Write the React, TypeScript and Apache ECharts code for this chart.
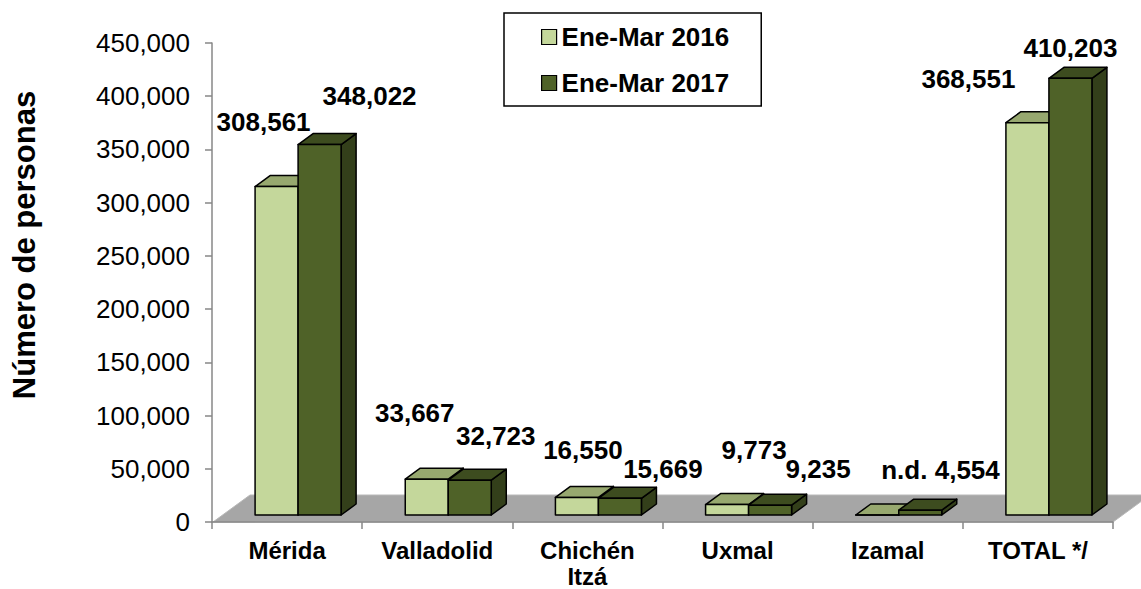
import React, { useEffect, useRef } from "react";
import * as echarts from "echarts";

const categories = ["Mérida", "Valladolid", "Chichén\nItzá", "Uxmal", "Izamal", "TOTAL */"];
const values2016: (number | null)[] = [308561, 33667, 16550, 9773, null, 368551];
const values2017: (number | null)[] = [348022, 32723, 15669, 9235, 4554, 410203];
const seriesNames = ["Ene-Mar 2016", "Ene-Mar 2017"];
const yMin = 0;
const yMax = 450000;
const yInterval = 50000;

// label placement (px) relative to each bar's front-top centre
const labelOffsets2016 = [[-13, -65], [-12, -66], [6, -47], [27, -55], [27, -45], [-59, -44]];
const labelOffsets2017 = [[50, -49], [26, -44], [43, -29], [48, -36], [47, -40], [0, -30]];

const FONT = "'Liberation Sans', Arial, Helvetica, sans-serif";

const palettes = [
  { front: "#c4d79b", top: "#97a86f", side: "#7f8f58" },
  { front: "#4f6228", top: "#3d4c1f", side: "#333f1a" },
];

const fmt = (v: number | null) => (v === null ? "n.d." : v.toLocaleString("en-US"));

function makeBarRender(sIdx: number, raw: (number | null)[], offsets: number[][]) {
  const pal = palettes[sIdx];
  return (params: any, api: any) => {
    const i = api.value(0);
    const v = api.value(1);
    const p = api.coord([i, v]);
    const z = api.coord([i, 0]);
    const band = api.size([1, 0])[0];
    const w = band * 0.2864;
    const shiftX = band * 0.0733;
    const lift = 7;
    const dx = 15;
    const dy = -11;
    const cx = p[0];
    const base = z[1] - lift;
    const top = p[1] - lift;
    const x = sIdx === 0 ? cx + shiftX - w : cx + shiftX;
    const stroke = { stroke: "#000", lineWidth: 1.5, lineJoin: "round" };
    const off = offsets[i] || [0, -30];
    return {
      type: "group",
      children: [
        {
          type: "polygon",
          shape: { points: [[x + w, top], [x + w + dx, top + dy], [x + w + dx, base + dy], [x + w, base]] },
          style: { fill: pal.side, ...stroke },
        },
        {
          type: "polygon",
          shape: { points: [[x, top], [x + dx, top + dy], [x + w + dx, top + dy], [x + w, top]] },
          style: { fill: pal.top, ...stroke },
        },
        {
          type: "rect",
          shape: { x, y: top, width: w, height: Math.max(0, base - top) },
          style: { fill: pal.front, ...stroke },
        },
        {
          type: "text",
          style: {
            text: fmt(raw[i]),
            x: x + w / 2 + off[0],
            y: top + off[1],
            fill: "#000",
            fontSize: 26,
            fontWeight: "bold",
            fontFamily: FONT,
            align: "center",
            verticalAlign: "middle",
          },
        },
      ],
    };
  };
}

export default function App() {
  const ref = useRef<HTMLDivElement>(null);
  useEffect(() => {
    if (!ref.current) return;
    const chart = echarts.init(ref.current, undefined, { renderer: "svg" });
    const option: any = {
      animation: false,
      backgroundColor: "#ffffff",
      textStyle: { fontFamily: FONT },
      grid: { left: 212, right: 28, top: 43, bottom: 66, containLabel: false },
      legend: {
        orient: "vertical",
        left: 504,
        top: 13,
        padding: [11, 32, 10, 37],
        borderColor: "#000",
        borderWidth: 1.5,
        itemWidth: 15,
        itemHeight: 15,
        itemGap: 20,
        icon: "rect",
        selectedMode: false,
        textStyle: { fontSize: 26, fontWeight: "bold", color: "#000", fontFamily: FONT },
        data: [
          { name: seriesNames[0], itemStyle: { color: palettes[0].front, borderColor: "#000", borderWidth: 1.2 } },
          { name: seriesNames[1], itemStyle: { color: palettes[1].front, borderColor: "#000", borderWidth: 1.2 } },
        ],
      },
      xAxis: {
        type: "category",
        data: categories,
        boundaryGap: true,
        z: 5,
        axisLine: { show: true, lineStyle: { color: "#878787", width: 1.5 } },
        axisTick: { show: true, length: 7, alignWithLabel: false, interval: 0, lineStyle: { color: "#878787", width: 1.5 } },
        axisLabel: {
          interval: 0,
          margin: 15,
          fontSize: 24,
          fontWeight: "bold",
          lineHeight: 26,
          color: "#000",
          fontFamily: FONT,
        },
        splitLine: { show: false },
      },
      yAxis: {
        type: "value",
        min: yMin,
        max: yMax,
        interval: yInterval,
        z: 5,
        axisLine: { show: true, lineStyle: { color: "#878787", width: 1.5 } },
        axisTick: { show: true, length: 7, lineStyle: { color: "#878787", width: 1.5 } },
        axisLabel: {
          margin: 22,
          fontSize: 26,
          color: "#000",
          fontFamily: FONT,
          formatter: (v: number) => v.toLocaleString("en-US"),
        },
        splitLine: { show: false },
      },
      graphic: [
        {
          type: "text",
          x: 24,
          y: 245,
          rotation: Math.PI / 2,
          style: {
            text: "Número de personas",
            fontSize: 31,
            fontWeight: "bold",
            fontFamily: FONT,
            fill: "#000",
            align: "center",
            verticalAlign: "middle",
          },
        },
      ],
      series: [
        {
          type: "custom",
          name: "floor",
          silent: true,
          z: 1,
          data: [[0, 0]],
          renderItem: (params: any, api: any) => {
            const cs = params.coordSys;
            const x0 = cs.x + 1;
            const x1 = cs.x + cs.width;
            const yb = api.coord([0, 0])[1];
            const ddx = 37;
            const ddy = -27;
            return {
              type: "polygon",
              shape: { points: [[x0, yb], [x1, yb], [x1 + ddx, yb + ddy], [x0 + ddx, yb + ddy]] },
              style: { fill: "#a6a6a6", stroke: "#b8b8b8", lineWidth: 1 },
            };
          },
        },
        {
          type: "custom",
          name: seriesNames[0],
          z: 2,
          itemStyle: { color: palettes[0].front },
          data: categories.map((_, i) => [i, values2016[i] ?? 0]),
          encode: { x: 0, y: 1 },
          renderItem: makeBarRender(0, values2016, labelOffsets2016),
        },
        {
          type: "custom",
          name: seriesNames[1],
          z: 2,
          itemStyle: { color: palettes[1].front },
          data: categories.map((_, i) => [i, values2017[i] ?? 0]),
          encode: { x: 0, y: 1 },
          renderItem: makeBarRender(1, values2017, labelOffsets2017),
        },
      ],
    };
    chart.setOption(option);
    return () => chart.dispose();
  }, []);
  return (
    <div
      ref={ref}
      style={{ position: "fixed", left: 0, top: 0, width: 1141, height: 589, background: "#fff" }}
    />
  );
}
